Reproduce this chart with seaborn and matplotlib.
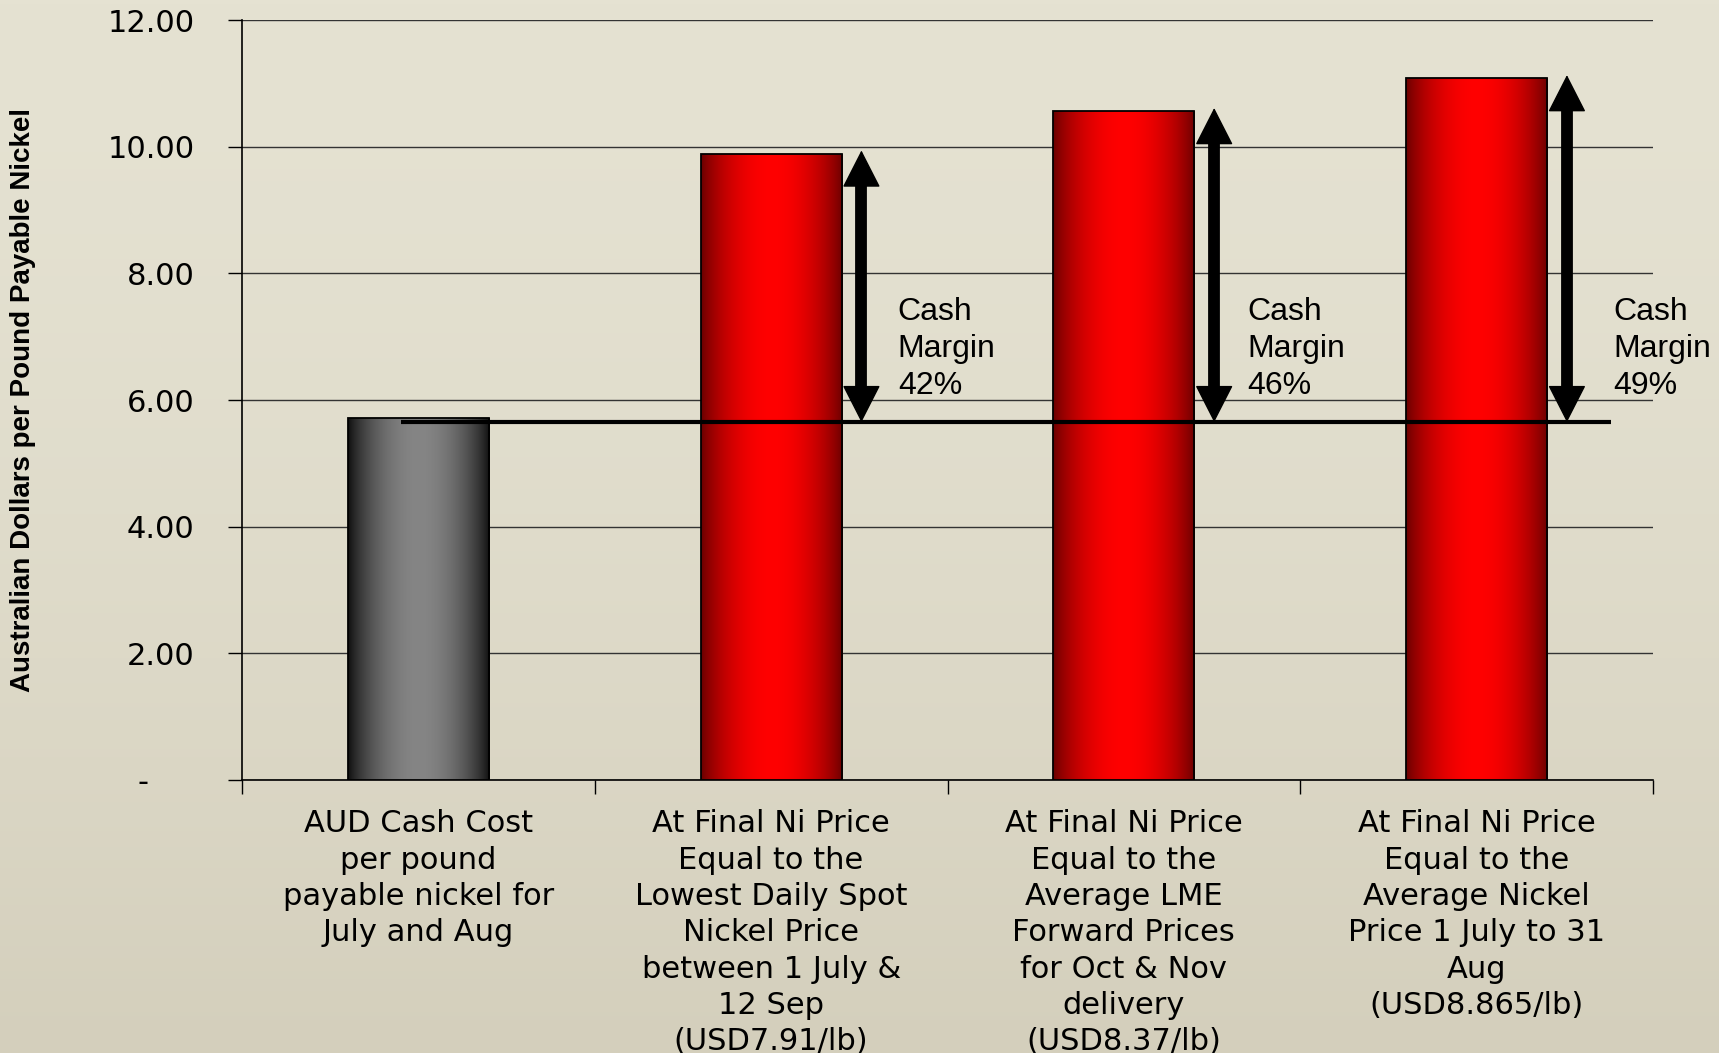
import numpy as np
import pandas as pd
import matplotlib
matplotlib.use("Agg")
import matplotlib.pyplot as plt
import matplotlib.colors as mcolors
from matplotlib.transforms import ScaledTranslation
import seaborn as sns

# ---------------- data ----------------
categories = [
    "AUD Cash Cost\nper pound\npayable nickel for\nJuly and Aug",
    "At Final Ni Price\nEqual to the\nLowest Daily Spot\nNickel Price\nbetween 1 July &\n12 Sep\n(USD7.91/lb)",
    "At Final Ni Price\nEqual to the\nAverage LME\nForward Prices\nfor Oct & Nov\ndelivery\n(USD8.37/lb)",
    "At Final Ni Price\nEqual to the\nAverage Nickel\nPrice 1 July to 31\nAug\n(USD8.865/lb)",
]
values = [5.72, 9.89, 10.56, 11.08]
cost_line = 5.65
margins = [42, 46, 49]
y_ticks = [0, 2, 4, 6, 8, 10, 12]
y_label = "Australian Dollars per Pound Payable Nickel"

# ---------------- style ----------------
sns.set_style("white")
plt.rcParams["font.family"] = ["Liberation Sans", "DejaVu Sans"]
plt.rcParams["text.color"] = "black"
plt.rcParams["axes.labelcolor"] = "black"
plt.rcParams["xtick.color"] = "black"
plt.rcParams["ytick.color"] = "black"

fig = plt.figure(figsize=(17.19, 10.53), dpi=100)

# background gradient
bg = fig.add_axes([0, 0, 1, 1], zorder=-10)
top_c = np.array(mcolors.to_rgb("#E5E2D2"))
bot_c = np.array(mcolors.to_rgb("#D4CFBC"))
t = np.linspace(0, 1, 256)[:, None]
grad = (top_c * (1 - t ** 1.6) + bot_c * t ** 1.6)[:, None, :]
bg.imshow(grad, aspect="auto", extent=[0, 1, 0, 1])
bg.set_axis_off()

ax = fig.add_axes([242 / 1719, 273 / 1053, 1411 / 1719, 760 / 1053])
ax.set_facecolor("none")

df = pd.DataFrame({"cat": categories, "value": values})
base_colors = ["#808080", "#ff0000", "#ff0000", "#ff0000"]
bar_w = 0.4
sns.barplot(data=df, x="cat", y="value", hue="cat", palette=base_colors,
            order=categories, hue_order=categories, legend=False,
            width=bar_w, edgecolor="black", linewidth=1.3, ax=ax, zorder=3)

# gradient fill of bars
edge_cols = {"#808080": ("#0c0c0c", "#858585"), "#ff0000": ("#660000", "#ff0000")}
prof = np.sin(np.linspace(0, np.pi, 256)) ** 0.75
for patch, bc in zip(ax.patches, base_colors):
    e, m = edge_cols[bc]
    e = np.array(mcolors.to_rgb(e)); m = np.array(mcolors.to_rgb(m))
    img = (e[None, :] + (m - e)[None, :] * prof[:, None])[None, :, :]
    x0, w = patch.get_x(), patch.get_width()
    y0, h = patch.get_y(), patch.get_height()
    im = ax.imshow(img, extent=[x0, x0 + w, y0, y0 + h], aspect="auto",
                   zorder=3.1, interpolation="bilinear")
    im.set_clip_path(patch)
    patch.set_facecolor("none")
    patch.set_zorder(3.2)

ax.set_xlim(-0.5, 3.5)
ax.set_ylim(0, 12)

# cost line
ax.hlines(cost_line, -0.05, 3.38, color="black", lw=3, zorder=4)

# arrows and margin text
text_dx = [0.359, 0.350, 0.388]
for i, (m, dx) in enumerate(zip(margins, text_dx), start=1):
    x = i + bar_w / 2 + 0.056
    top = values[i]
    ax.vlines(x, cost_line + 0.3, top - 0.3, color="black", lw=8.5, zorder=5)
    ax.annotate("", xy=(x, top + 0.05), xytext=(x, cost_line),
                arrowprops=dict(arrowstyle="<|-|>,head_length=2.45,head_width=1.25",
                                color="black", lw=1, shrinkA=0, shrinkB=0),
                zorder=5)
    ax.text(i + dx, 6.8, f"Cash\nMargin\n{m}%", fontsize=23, ha="left",
            va="center", linespacing=1.3, color="black", zorder=6)

# grid and spines
ax.set_yticks(y_ticks)
ax.set_yticklabels(["-" if v == 0 else f"{v:.2f}" for v in y_ticks],
                   fontsize=22, family="DejaVu Sans", color="black")
ax.yaxis.grid(True, color="#333333", lw=1)
ax.set_axisbelow(True)
ax.tick_params(axis="y", length=10, width=1, color="black", pad=24, left=True,
               labelcolor="black")
dash = ax.get_yticklabels()[0]
dash.set_transform(dash.get_transform() + ScaledTranslation(-0.46, 0, fig.dpi_scale_trans))

ax.set_xticks(np.arange(-0.5, 4, 1.0))
ax.set_xticklabels([""] * 5)
ax.set_xticks(np.arange(4), labels=categories, minor=True)
ax.tick_params(axis="x", which="major", length=10, width=1, color="black", bottom=True)
ax.tick_params(axis="x", which="minor", length=0, pad=21, labelsize=22,
               labelcolor="black")
for lab in ax.get_xticklabels(minor=True):
    lab.set_linespacing(1.32)
    lab.set_family("DejaVu Sans")
    lab.set_color("black")
ax.set_xlabel("")

for s in ["top", "right"]:
    ax.spines[s].set_visible(False)
for s in ["left", "bottom"]:
    ax.spines[s].set_color("black")
    ax.spines[s].set_linewidth(1.2)

ax.set_ylabel(y_label, fontsize=20, fontweight="bold", color="black",
              family=["Liberation Sans Narrow", "Liberation Sans"])
ax.yaxis.set_label_coords(-0.146, 0.5)

fig.savefig("out.png", dpi=100)
